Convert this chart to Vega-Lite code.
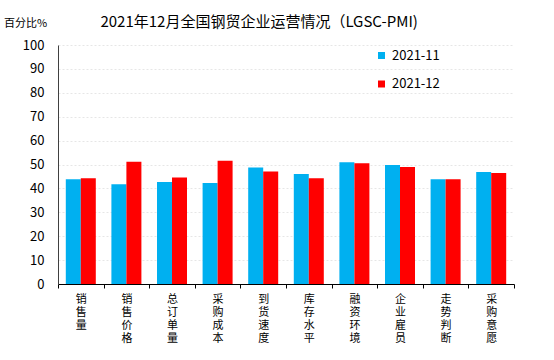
{
  "$schema": "https://vega.github.io/schema/vega-lite/v6.json",
  "width": 456,
  "height": 239,
  "autosize": {"type": "none"},
  "padding": {"left": 58, "top": 45, "right": 40, "bottom": 76},
  "background": "white",
  "config": {
    "font": "Noto Sans CJK SC",
    "view": {"stroke": null}
  },
  "title": {
    "text": "2021年12月全国钢贸企业运营情况（LGSC-PMI)",
    "anchor": "start",
    "dx": 97,
    "offset": -13,
    "fontSize": 15,
    "fontWeight": "normal",
    "color": "#000000",
    "font": "Noto Sans CJK SC"
  },
  "data": {
    "values": [
      {"cat": "销售量", "month": "2021-11", "v": 43.8},
      {"cat": "销售量", "month": "2021-12", "v": 44.2},
      {"cat": "销售价格", "month": "2021-11", "v": 41.7},
      {"cat": "销售价格", "month": "2021-12", "v": 51.2},
      {"cat": "总订单量", "month": "2021-11", "v": 42.7},
      {"cat": "总订单量", "month": "2021-12", "v": 44.6},
      {"cat": "采购成本", "month": "2021-11", "v": 42.3},
      {"cat": "采购成本", "month": "2021-12", "v": 51.6},
      {"cat": "到货速度", "month": "2021-11", "v": 48.7},
      {"cat": "到货速度", "month": "2021-12", "v": 47.1},
      {"cat": "库存水平", "month": "2021-11", "v": 46.0},
      {"cat": "库存水平", "month": "2021-12", "v": 44.2},
      {"cat": "融资环境", "month": "2021-11", "v": 50.9},
      {"cat": "融资环境", "month": "2021-12", "v": 50.5},
      {"cat": "企业雇员", "month": "2021-11", "v": 49.8},
      {"cat": "企业雇员", "month": "2021-12", "v": 49.0},
      {"cat": "走势判断", "month": "2021-11", "v": 43.8},
      {"cat": "走势判断", "month": "2021-12", "v": 43.8},
      {"cat": "采购意愿", "month": "2021-11", "v": 46.9},
      {"cat": "采购意愿", "month": "2021-12", "v": 46.4}
    ]
  },
  "mark": {"type": "bar"},
  "encoding": {
    "x": {
      "field": "cat",
      "type": "nominal",
      "sort": null,
      "scale": {"paddingInner": 0, "paddingOuter": 0},
      "axis": {
        "title": null,
        "labelAngle": 0,
        "labelExpr": "split(datum.label, '')",
        "labelFontSize": 11,
        "labelLineHeight": 13,
        "labelColor": "#000000",
        "labelPadding": 5,
        "tickBand": "extent",
        "ticks": true,
        "tickSize": 4,
        "tickColor": "#000000",
        "domainColor": "#000000",
        "grid": false
      }
    },
    "xOffset": {
      "field": "month",
      "type": "nominal",
      "scale": {"paddingInner": 0, "paddingOuter": 0.52}
    },
    "y": {
      "field": "v",
      "type": "quantitative",
      "scale": {"domain": [0, 100], "nice": false},
      "axis": {
        "values": [0, 10, 20, 30, 40, 50, 60, 70, 80, 90, 100],
        "title": "百分比%",
        "titleAngle": 0,
        "titleAlign": "center",
        "titleBaseline": "middle",
        "titleX": -33,
        "titleY": -22,
        "titleFontSize": 11,
        "titleFontWeight": "normal",
        "titleColor": "#000000",
        "labelFontSize": 13,
        "labelColor": "#000000",
        "labelPadding": 14,
        "ticks": false,
        "domainColor": "#404040",
        "gridColor": "#e6e6e6",
        "gridDash": [2, 2]
      }
    },
    "color": {
      "field": "month",
      "type": "nominal",
      "scale": {"domain": ["2021-11", "2021-12"], "range": ["#00B0F0", "#FF0000"]},
      "legend": {
        "title": null,
        "orient": "none",
        "legendX": 317,
        "legendY": 4,
        "padding": 0,
        "symbolType": "square",
        "symbolSize": 49,
        "labelFontSize": 13,
        "labelColor": "#000000",
        "rowPadding": 14.5,
        "labelOffset": 4
      }
    }
  }
}
